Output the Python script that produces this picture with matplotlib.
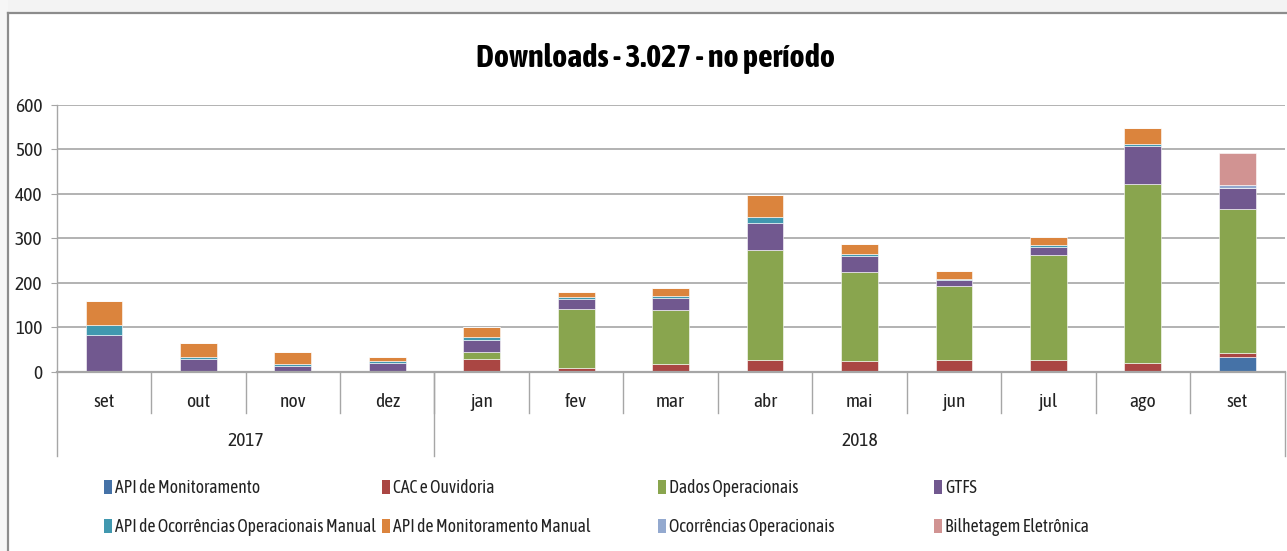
import matplotlib
matplotlib.use("Agg")
import matplotlib.pyplot as plt
from matplotlib import font_manager
from matplotlib.patches import Patch, Rectangle
from matplotlib.lines import Line2D
from matplotlib.transforms import blended_transform_factory
import numpy as np

names = {f.name for f in font_manager.fontManager.ttflist}
main_font = next((n for n in ["Asap Condensed", "Barlow Semi Condensed", "Archivo Narrow", "Carlito", "Open Sans"]
                  if n in names), "DejaVu Sans")
plt.rcParams['font.family'] = [main_font, "DejaVu Sans"]

months = ["set", "out", "nov", "dez", "jan", "fev", "mar", "abr", "mai", "jun", "jul", "ago", "set"]
years = ["2017", "2018"]
year_spans = [(0, 4), (4, 13)]

api_monitoramento = [0, 0, 0, 0, 0, 0, 0, 0, 0, 0, 0, 0, 33]
cac_ouvidoria = [0, 0, 0, 0, 29, 8, 17, 26, 24, 27, 27, 20, 10]
dados_operacionais = [0, 0, 0, 0, 16, 134, 122, 248, 200, 166, 235, 402, 323]
gtfs = [82, 29, 13, 20, 27, 22, 27, 61, 36, 13, 19, 85, 47]
api_ocorr_manual = [24, 5, 5, 3, 6, 3, 3, 12, 4, 3, 4, 5, 0]
api_monit_manual = [54, 30, 27, 11, 23, 12, 18, 49, 23, 18, 17, 35, 0]
ocorrencias = [0, 0, 0, 0, 0, 0, 0, 0, 0, 0, 0, 0, 6]
bilhetagem = [0, 0, 0, 0, 0, 0, 0, 0, 0, 0, 0, 0, 72]

series = [
    ("API de Monitoramento", api_monitoramento, "#4572A7"),
    ("CAC e Ouvidoria", cac_ouvidoria, "#AA4643"),
    ("Dados Operacionais", dados_operacionais, "#89A54E"),
    ("GTFS", gtfs, "#71588F"),
    ("API de Ocorrências Operacionais Manual", api_ocorr_manual, "#4198AF"),
    ("API de Monitoramento Manual", api_monit_manual, "#DB843D"),
    ("Ocorrências Operacionais", ocorrencias, "#93A9CF"),
    ("Bilhetagem Eletrônica", bilhetagem, "#D19392"),
]

W, H = 1287, 551
fig = plt.figure(figsize=(W / 100, H / 100), dpi=100)
fig.patch.set_facecolor("white")

# light gray surroundings and chart border
fig.patches.append(Rectangle((0, 1 - 13 / H), 1, 13 / H, transform=fig.transFigure,
                             facecolor="#F3F3F3", edgecolor="none", zorder=0))
fig.patches.append(Rectangle((0, 0), 8 / W, 1, transform=fig.transFigure,
                             facecolor="#F6F6F6", edgecolor="none", zorder=0))
fig.lines.append(Line2D([8 / W, 1], [1 - 13 / H, 1 - 13 / H], transform=fig.transFigure,
                        color="#8C8C8C", lw=1.6))
fig.lines.append(Line2D([8 / W, 8 / W], [0, 1 - 13 / H], transform=fig.transFigure,
                        color="#8C8C8C", lw=1.6))

left, right = 56.7 / W, 1284.5 / W
bottom, top = 1 - 371.7 / H, 1 - 104.7 / H
ax = fig.add_axes([left, bottom, right - left, top - bottom])

x = np.arange(len(months))
base = np.zeros(len(months))
handles = {}
for name, vals, col in series:
    v = np.array(vals, dtype=float)
    ax.bar(x, v, 0.39, bottom=base, color=col, edgecolor="white", linewidth=0.4, zorder=3)
    base += v
    handles[name] = Patch(facecolor=col, edgecolor="none")

ax.set_xlim(-0.5, len(months) - 0.5)
ax.set_ylim(0, 600)
ax.set_yticks(range(0, 601, 100))
ax.yaxis.grid(True, color="#A6A6A6", lw=1.2, zorder=0)
ax.set_axisbelow(True)
for s in ["top", "right", "bottom"]:
    ax.spines[s].set_visible(False)
ax.spines["left"].set_color("#A6A6A6")
ax.spines["left"].set_linewidth(1.0)
ax.tick_params(axis="y", length=4.3, color="#A6A6A6", labelsize=14, pad=6, labelcolor="#222222")
ax.tick_params(axis="x", length=0, labelsize=14, pad=15, labelcolor="#222222")
ax.set_xticks(x)
ax.set_xticklabels(months)

tr = blended_transform_factory(ax.transData, ax.transAxes)
ax.axhline(0, color="#A6A6A6", lw=1.6, zorder=4, clip_on=False)
month_sep = -(413 - 371.7) / 267
year_sep = -(456 - 371.7) / 267
for b in np.arange(0.5, len(months) - 1, 1.0):
    ax.plot([b, b], [0, month_sep], transform=tr, color="#A6A6A6", lw=1.0, clip_on=False)
for (s0, s1), yr in zip(year_spans, years):
    ax.plot([s0 - 0.5, s0 - 0.5], [0, year_sep], transform=tr, color="#A6A6A6", lw=1.0, clip_on=False)
    ax.text((s0 + s1 - 1) / 2, -(441 - 371.7) / 267, yr, transform=tr, ha="center", va="center",
            fontsize=14, color="#222222")
ax.plot([len(months) - 0.5] * 2, [0, year_sep], transform=tr, color="#A6A6A6", lw=1.0, clip_on=False)

fig.text(655 / W, 1 - 59 / H, "Downloads - 3.027 - no período", ha="center", va="center",
         fontsize=23, fontweight="bold", color="black")

legend_cols = [
    ["API de Monitoramento", "API de Ocorrências Operacionais Manual"],
    ["CAC e Ouvidoria", "API de Monitoramento Manual"],
    ["Dados Operacionais", "Ocorrências Operacionais"],
    ["GTFS", "Bilhetagem Eletrônica"],
]
col_x = [104, 382, 658, 934]
for cx, col_names in zip(col_x, legend_cols):
    leg = fig.legend([handles[n] for n in col_names], col_names, ncol=1,
                     bbox_to_anchor=(cx / W, 1 - 479 / H), loc="upper left",
                     frameon=False, fontsize=12.7, handlelength=0.45, handleheight=0.8,
                     handletextpad=0.2, labelspacing=1.2, borderaxespad=0, borderpad=0)
    for t in leg.get_texts():
        t.set_color("#222222")

fig.savefig("out.png", dpi=100)
